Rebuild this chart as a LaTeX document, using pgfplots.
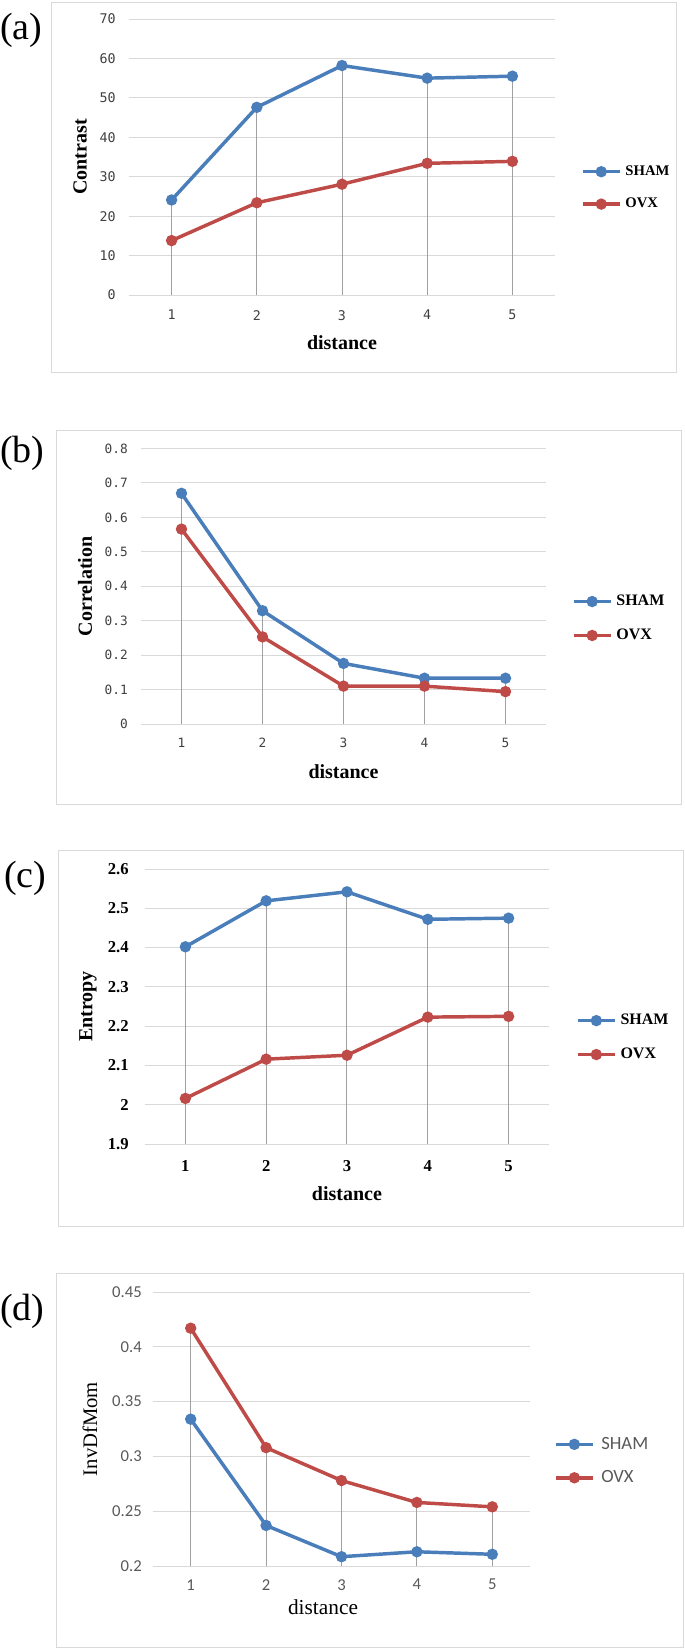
\documentclass[border=0pt]{standalone}
\usepackage{pgfplots}
\pgfplotsset{compat=1.18}
\usepackage{fontspec}
\setmainfont{Liberation Serif}
\newfontfamily\monofnt{DejaVu Sans Mono}
\newfontfamily\calfnt{Carlito}

\definecolor{shamblue}{RGB}{74,126,187}
\definecolor{ovxred}{RGB}{190,75,72}
\definecolor{gridgray}{RGB}{217,217,217}
\definecolor{dropgray}{RGB}{160,160,160}
\definecolor{ticktext}{RGB}{64,64,64}
\definecolor{calgray}{RGB}{89,89,89}

\pgfplotsset{
  glcm/.style={
    scale only axis, anchor=south west,
    xmin=0.5, xmax=5.5, xtick={1,2,3,4,5},
    axis line style={draw=none}, major tick length=0pt,
    ymajorgrids, major grid style={draw=gridgray, line width=0.75pt},
    xticklabel style={inner sep=0pt, anchor=north},
    yticklabel style={inner sep=0pt, anchor=east},
    every axis y label/.style={rotate=90, anchor=center},
    every axis x label/.style={anchor=center},
    legend cell align=left,
    legend image code/.code={\draw[mark repeat=2,mark phase=2,##1] plot coordinates {(0pt,0pt) (13.9pt,0pt) (27.75pt,0pt)};},
  },
  sham/.style={color=shamblue, line width=2.6pt, mark=*, mark size=2.9pt, mark options={solid}},
  ovx/.style={color=ovxred, line width=2.6pt, mark=*, mark size=2.9pt, mark options={solid}},
  drop/.style={ycomb, draw=dropgray, line width=0.75pt, mark=none, forget plot},
}

\begin{document}
\begin{tikzpicture}
\useasboundingbox (0,0) rectangle (513.75pt,-1236.75pt);

% frames
\draw[gridgray, line width=0.75pt] (38.25pt,-1.5pt) rectangle (507pt,-279pt);
\draw[gridgray, line width=0.75pt] (42pt,-322.5pt) rectangle (510.75pt,-603pt);
\draw[gridgray, line width=0.75pt] (43.5pt,-637.5pt) rectangle (512.25pt,-919.5pt);
\draw[gridgray, line width=0.75pt] (42pt,-954.75pt) rectangle (512.25pt,-1235.25pt);

% panel letters
\node[anchor=west, inner sep=0pt, font=\fontsize{28.5}{30}\selectfont] at (0pt,-22.5pt) {(a)};
\node[anchor=west, inner sep=0pt, font=\fontsize{28.5}{30}\selectfont] at (0pt,-339.75pt) {(b)};
\node[anchor=west, inner sep=0pt, font=\fontsize{28.5}{30}\selectfont] at (3pt,-658.5pt) {(c)};
\node[anchor=west, inner sep=0pt, font=\fontsize{28.5}{30}\selectfont] at (0pt,-983.25pt) {(d)};

% (a) Contrast
\begin{axis}[glcm, at={(96.75pt,-221.25pt)}, width=319.5pt, height=207pt,
  ymin=0, ymax=70, ytick={0,10,...,70},
  yticklabels={0,10,20,30,40,50,60,70},
  xticklabels={1,2,3,4,5},
  ticklabel style={font=\monofnt\fontsize{10}{12}\selectfont, text=ticktext},
  yticklabel style={xshift=-9.75pt},
  xticklabel style={yshift=-11.25pt},
  ylabel={Contrast}, ylabel style={at={(axis description cs:-0.115,0.5)}, font=\bfseries\fontsize{15}{18}\selectfont},
  xlabel={distance}, xlabel style={at={(axis description cs:0.5,-0.174)}, font=\bfseries\fontsize{15}{18}\selectfont},
  legend style={draw=none, fill=none, inner sep=0pt, outer sep=0pt, at={(1.061,0.388)}, anchor=west,
    row sep=11.5pt, column sep=1pt, font=\bfseries\fontsize{11}{13}\selectfont},
]
\addplot[drop] coordinates {(1,24.1) (2,47.6) (3,58.2) (4,55.0) (5,55.5)};
\addplot[sham] coordinates {(1,24.1) (2,47.6) (3,58.2) (4,55.0) (5,55.5)};
\addplot[ovx] coordinates {(1,13.8) (2,23.4) (3,28.1) (4,33.4) (5,33.9)};
\legend{SHAM,OVX}
\end{axis}

% (b) Correlation
\begin{axis}[glcm, at={(105.75pt,-543pt)}, width=303.75pt, height=206.6pt,
  ymin=0, ymax=0.8, ytick={0,0.1,...,0.8},
  yticklabels={0,0.1,0.2,0.3,0.4,0.5,0.6,0.7,0.8},
  xticklabels={1,2,3,4,5},
  ticklabel style={font=\monofnt\fontsize{9.6}{12}\selectfont, text=ticktext},
  yticklabel style={xshift=-9.75pt},
  xticklabel style={yshift=-10.5pt},
  ylabel={Correlation}, ylabel style={at={(axis description cs:-0.138,0.5)}, font=\bfseries\fontsize{15}{18}\selectfont},
  xlabel={distance}, xlabel style={at={(axis description cs:0.5,-0.174)}, font=\bfseries\fontsize{15}{18}\selectfont},
  legend style={draw=none, fill=none, inner sep=0pt, outer sep=0pt, at={(1.064,0.383)}, anchor=west,
    row sep=12pt, column sep=1pt, font=\bfseries\fontsize{12}{14}\selectfont},
]
\addplot[drop] coordinates {(1,0.670) (2,0.329) (3,0.176) (4,0.133) (5,0.133)};
\addplot[sham] coordinates {(1,0.670) (2,0.329) (3,0.176) (4,0.133) (5,0.133)};
\addplot[ovx] coordinates {(1,0.566) (2,0.253) (3,0.110) (4,0.110) (5,0.094)};
\legend{SHAM,OVX}
\end{axis}

% (c) Entropy
\begin{axis}[glcm, at={(108.75pt,-858pt)}, width=303pt, height=206.25pt,
  ymin=1.9, ymax=2.6, ytick={1.9,2.0,...,2.6},
  yticklabels={1.9,2,2.1,2.2,2.3,2.4,2.5,2.6},
  xticklabels={1,2,3,4,5},
  ticklabel style={font=\bfseries\fontsize{12.5}{14}\selectfont, text=black},
  yticklabel style={xshift=-12pt},
  xticklabel style={yshift=-12pt},
  ylabel={Entropy}, ylabel style={at={(axis description cs:-0.141,0.5)}, font=\bfseries\fontsize{15}{18}\selectfont},
  xlabel={distance}, xlabel style={at={(axis description cs:0.5,-0.182)}, font=\bfseries\fontsize{15}{18}\selectfont},
  legend style={draw=none, fill=none, inner sep=0pt, outer sep=0pt, at={(1.067,0.387)}, anchor=west,
    row sep=12pt, column sep=1pt, font=\bfseries\fontsize{12}{14}\selectfont},
]
\addplot[drop] coordinates {(1,2.402) (2,2.519) (3,2.542) (4,2.472) (5,2.475)};
\addplot[sham] coordinates {(1,2.402) (2,2.519) (3,2.542) (4,2.472) (5,2.475)};
\addplot[ovx] coordinates {(1,2.016) (2,2.116) (3,2.126) (4,2.223) (5,2.225)};
\legend{SHAM,OVX}
\end{axis}

% (d) InvDfMom
\begin{axis}[glcm, at={(114.75pt,-1174.5pt)}, width=282.75pt, height=205.5pt,
  ymin=0.2, ymax=0.45, ytick={0.2,0.25,...,0.45},
  yticklabels={0.2,0.25,0.3,0.35,0.4,0.45},
  xticklabels={1,2,3,4,5},
  ticklabel style={font=\calfnt\fontsize{12.5}{14}\selectfont, text=calgray},
  yticklabel style={xshift=-8.25pt},
  xticklabel style={yshift=-9.75pt},
  ylabel={InvDfMom}, ylabel style={at={(axis description cs:-0.167,0.5)}, font=\fontsize{15.5}{18}\selectfont},
  xlabel={distance}, xlabel style={at={(axis description cs:0.451,-0.15)}, font=\fontsize{16}{18}\selectfont},
  legend style={draw=none, fill=none, inner sep=0pt, outer sep=0pt, at={(1.064,0.383)}, anchor=west,
    row sep=10.5pt, column sep=3pt, font=\calfnt\fontsize{14}{16}\selectfont, text=calgray},
]
\addplot[drop] coordinates {(1,0.417) (2,0.308) (3,0.278) (4,0.258) (5,0.254)};
\addplot[sham] coordinates {(1,0.334) (2,0.237) (3,0.2085) (4,0.213) (5,0.2107)};
\addplot[ovx] coordinates {(1,0.417) (2,0.308) (3,0.278) (4,0.258) (5,0.254)};
\legend{SHAM,OVX}
\end{axis}
\end{tikzpicture}
\end{document}
